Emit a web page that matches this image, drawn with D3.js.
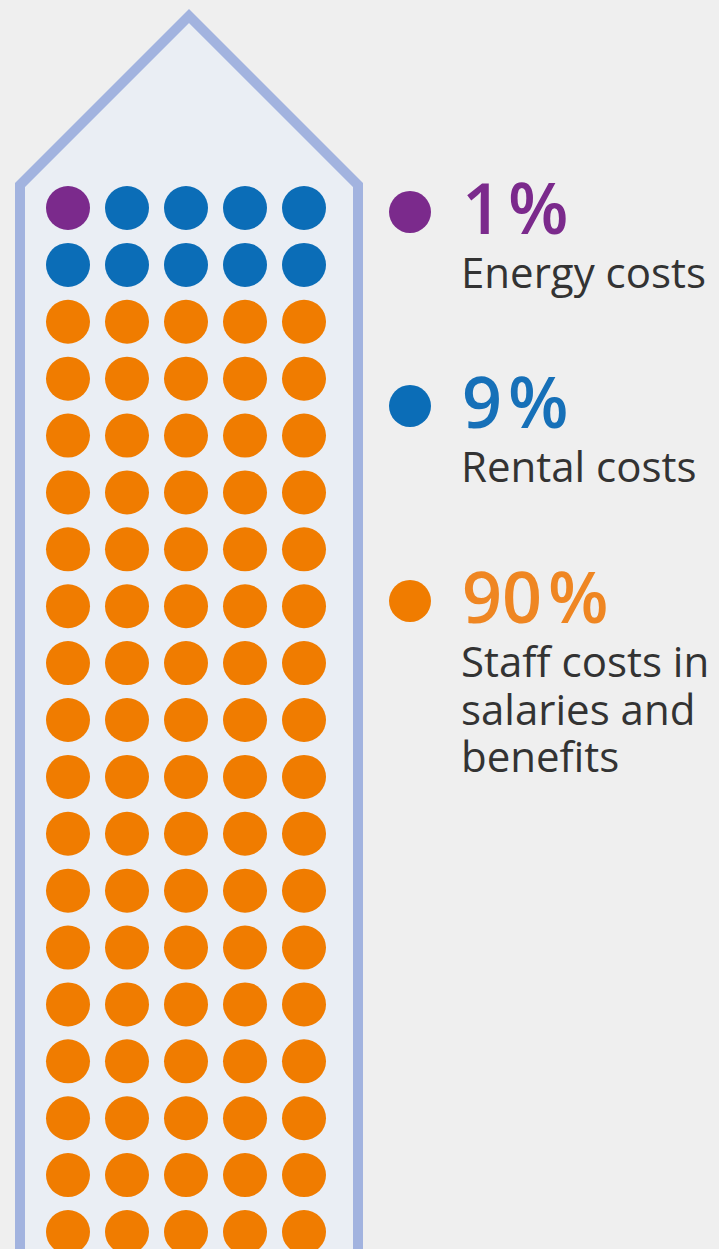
<!DOCTYPE html>
<html>
<head>
<meta charset="utf-8">
<script src="https://cdn.jsdelivr.net/npm/d3@7"></script>
<style>
  html, body { margin: 0; padding: 0; background: #efefef; }
  svg { display: block; }
</style>
</head>
<body>
<script>
// cost breakdown, one dot per percent
var categories = ["Energy costs", "Rental costs", "Staff costs in salaries and benefits"];
var percents = [1, 9, 90];
var labelLines = [["Energy costs"], ["Rental costs"], ["Staff costs in", "salaries and", "benefits"]];
var colors = ["#7b2a8c", "#0b6db7", "#f07c00"];
var textColors = ["#7b2a8c", "#1670b8", "#ef8622"];

var W = 719, H = 1249;
var cols = 5;

var svg = d3.select("body").append("svg")
    .attr("width", W)
    .attr("height", H);

// one unit per percent point
var units = [];
percents.forEach(function(p, c) {
    for (var k = 0; k < p; k++) units.push({cat: c});
});
units.forEach(function(d, i) { d.col = i % cols; d.row = Math.floor(i / cols); });

var x = d3.scaleLinear().domain([0, cols - 1]).range([68, 304]);
var y = d3.scaleLinear().domain([0, 18]).range([208, 1232]);

// house outline
var house = [[20, 1300], [20, 185], [189, 16], [358, 185], [358, 1300]];
svg.append("path")
    .attr("d", d3.line()(house) + "Z")
    .attr("fill", "#eaeef4")
    .attr("stroke", "none");
svg.append("path")
    .attr("d", d3.line()(house))
    .attr("fill", "none")
    .attr("stroke", "#a2b3df")
    .attr("stroke-width", 10)
    .attr("stroke-linejoin", "miter");

// dots
svg.selectAll("circle.unit")
    .data(units)
    .enter().append("circle")
        .attr("class", "unit")
        .attr("cx", function(d) { return x(d.col); })
        .attr("cy", function(d) { return y(d.row); })
        .attr("r", 22)
        .attr("fill", function(d) { return colors[d.cat]; });

// legend
var legendY = d3.scaleOrdinal().domain(categories).range([212, 406, 601]);

var leg = svg.selectAll("g.legend")
    .data(categories)
    .enter().append("g")
        .attr("class", "legend")
        .attr("transform", function(d) { return "translate(0," + legendY(d) + ")"; });

leg.append("circle")
    .attr("cx", 410)
    .attr("cy", 0)
    .attr("r", 21)
    .attr("fill", function(d, i) { return colors[i]; });

var pct = leg.append("text")
    .attr("x", 462)
    .attr("y", 22)
    .attr("font-family", "'Open Sans', sans-serif")
    .attr("font-weight", 600)
    .attr("font-size", 70)
    .attr("fill", function(d, i) { return textColors[i]; });
pct.append("tspan").text(function(d, i) { return percents[i]; });
pct.append("tspan").attr("dx", 6).text("%");

// description lines, one text per line
leg.each(function(d, i) {
    var g = d3.select(this);
    labelLines[i].forEach(function(line, j) {
        g.append("text")
            .attr("x", 461)
            .attr("y", 76 + j * 47.5)
            .attr("font-family", "'Open Sans', sans-serif")
            .attr("font-size", 42)
            .attr("fill", "#333333")
            .text(line);
    });
});
</script>
</body>
</html>
